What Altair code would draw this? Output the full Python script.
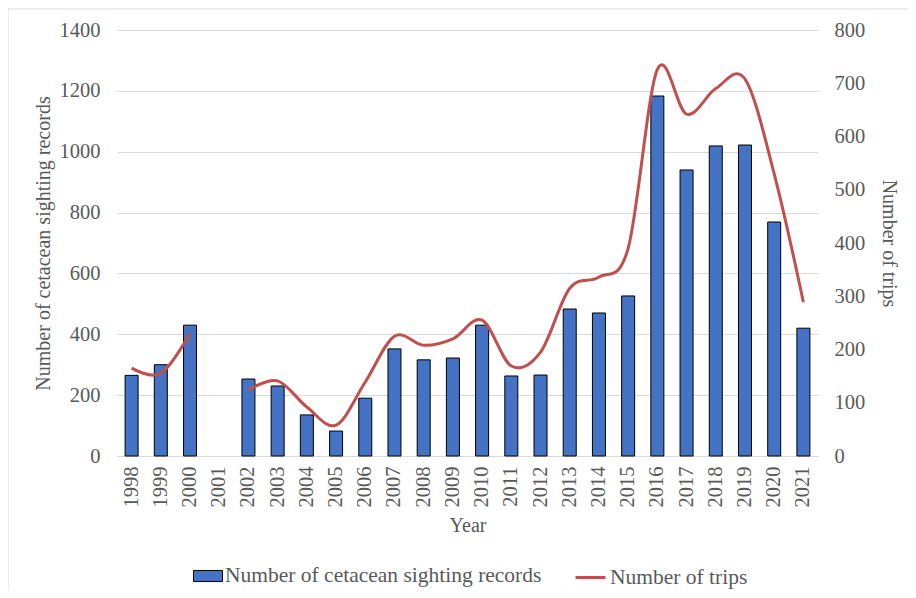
import altair as alt
import pandas as pd

# ---- data ----
years = [str(y) for y in range(1998, 2022)]

bar_years = ["1998", "1999", "2000", "2002", "2003", "2004", "2005", "2006", "2007",
             "2008", "2009", "2010", "2011", "2012", "2013", "2014", "2015", "2016",
             "2017", "2018", "2019", "2020", "2021"]
records = [265, 300, 430, 253, 230, 135, 82, 190, 352,
           316, 322, 430, 263, 266, 483, 470, 526, 1183,
           940, 1019, 1022, 769, 420]

trip_years = bar_years
trips = [165, 155, 230, 124, 141, 92, 58, 139, 225,
         208, 220, 255, 169, 195, 315, 336, 390, 726,
         642, 690, 708, 530, 289]
trip_segment = ["a", "a", "a"] + ["b"] * 20

bar_label = "Number of cetacean sighting records"
line_label = "Number of trips"

bars_df = pd.DataFrame({"year": bar_years, "records": records, "series": bar_label})
line_df = pd.DataFrame({"year": trip_years, "trips": trips, "seg": trip_segment,
                        "series": line_label})

FONT = "Liberation Serif"
TXT = "#595959"
GRID = "#d9d9d9"
LBL = 20.5
TTL = 20

x_scale = alt.Scale(domain=years, paddingInner=0, paddingOuter=0)
x_axis = alt.Axis(title="Year", labelAngle=-90, labelFontSize=LBL, titleFontSize=TTL,
                  labelColor=TXT, titleColor=TXT, ticks=False, domainColor=GRID,
                  labelPadding=10, titlePadding=8, titleFontWeight="normal",
                  labelBaseline="middle")

bars = alt.Chart(bars_df).mark_bar(size=13, stroke="black", strokeWidth=1).encode(
    x=alt.X("year:O", scale=x_scale, axis=x_axis),
    y=alt.Y("records:Q", scale=alt.Scale(domain=[0, 1400]),
            axis=alt.Axis(title=bar_label, values=list(range(0, 1401, 200)), format="d",
                          grid=True, gridColor=GRID, domain=False, ticks=False,
                          labelFontSize=LBL, titleFontSize=TTL, labelColor=TXT,
                          titleColor=TXT, labelPadding=17, titlePadding=6,
                          titleFontWeight="normal")),
    fill=alt.Fill("series:N", scale=alt.Scale(domain=[bar_label], range=["#4472C4"]),
                  legend=alt.Legend(title=None, orient="none", legendX=76, legendY=531,
                                    symbolType="M-1,-0.38H1V0.38H-1Z", symbolSize=841,
                                    symbolStrokeColor="black", symbolStrokeWidth=1,
                                    labelFontSize=21.5, labelColor=TXT, labelOffset=2,
                                    labelFont=FONT, labelLimit=0)),
)

line = alt.Chart(line_df).mark_line(interpolate="cardinal", strokeWidth=3).encode(
    x=alt.X("year:O", scale=x_scale, axis=x_axis),
    y=alt.Y("trips:Q", scale=alt.Scale(domain=[0, 800]),
            axis=alt.Axis(title=line_label, orient="right", values=list(range(0, 801, 100)),
                          format="d", grid=False, domain=False, ticks=False,
                          labelFontSize=LBL, titleFontSize=TTL, labelColor=TXT,
                          titleColor=TXT, labelPadding=16, titlePadding=14,
                          titleFontWeight="normal")),
    stroke=alt.Stroke("series:N", scale=alt.Scale(domain=[line_label], range=["#C0504D"]),
                      legend=alt.Legend(title=None, orient="none", legendX=457, legendY=531,
                                        symbolType="stroke", symbolSize=900,
                                        symbolStrokeWidth=3, labelFontSize=21.5,
                                        labelColor=TXT, labelOffset=3, labelFont=FONT,
                                        labelLimit=0)),
    detail="seg:N",
)

frame = alt.Chart(pd.DataFrame({"f": [0]})).mark_rect(
    filled=False, stroke=GRID, strokeWidth=1).encode(
    x=alt.value(-109), x2=alt.value(793), y=alt.value(-21), y2=alt.value(566))

chart = alt.layer(frame, bars, line).resolve_scale(y="independent").properties(
    width=701, height=426,
    autosize=alt.AutoSizeParams(type="none"),
    padding={"left": 109, "top": 22, "right": 90, "bottom": 134},
).configure(font=FONT).configure_view(stroke=None)

chart.save("out.html", embed_options={"renderer": "svg", "actions": False})
